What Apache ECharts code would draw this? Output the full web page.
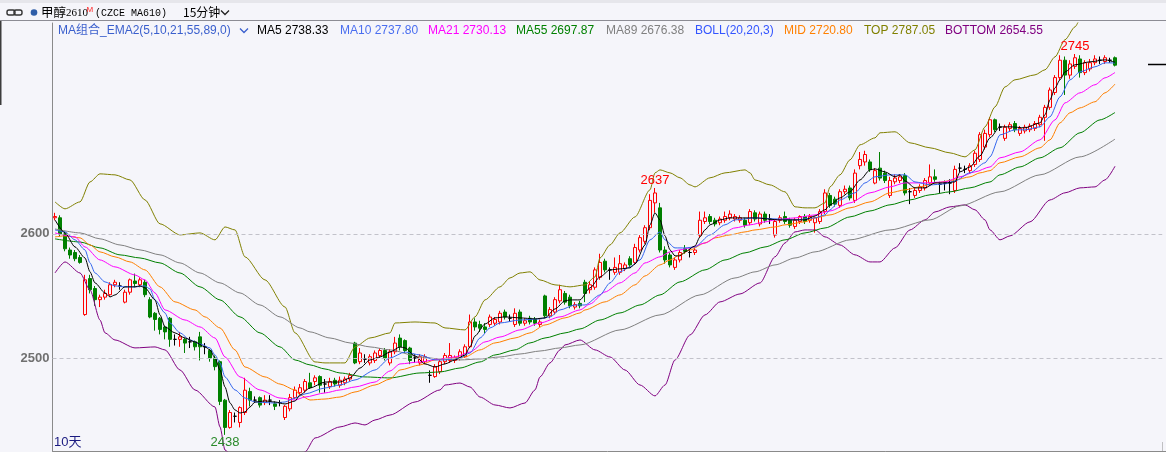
<!DOCTYPE html>
<html>
<head>
<meta charset="utf-8">
<title>甲醇2610 15分钟</title>
<script src="https://cdn.jsdelivr.net/npm/echarts@6.0.0/dist/echarts.min.js"></script>
<style>
  html, body { margin: 0; padding: 0; background: #f5f5fa; overflow: hidden; }
  #chart { width: 1166px; height: 452px; }
</style>
</head>
<body>
<div id="chart"></div>
<script>
// K线: [开, 收, 低, 高]，15分钟
var kline = [
  [2613,2614,2611,2617],[2613,2600,2598,2615],[2600,2588,2586,2602],[2587,2583,2580,2589],[2585,2580,2578,2587],
  [2581,2577,2576,2583],[2535,2563,2534,2567],[2564,2555,2552,2567],[2556,2547,2542,2558],[2547,2549,2541,2551],
  [2549,2552,2547,2555],[2551,2559,2550,2561],[2559,2561,2557,2563],[2558,2558,2555,2561],[2545,2553,2544,2555],
  [2553,2563,2551,2564],[2562,2560,2557,2568],[2559,2563,2557,2565],[2561,2551,2549,2563],[2547,2533,2532,2549],
  [2536,2531,2522,2537],[2532,2523,2519,2533],[2525,2521,2515,2526],[2532,2515,2509,2533],[2515,2515,2510,2519],
  [2515,2517,2509,2521],[2515,2512,2504,2516],[2513,2513,2508,2517],[2513,2509,2506,2514],[2517,2509,2498,2521],
  [2509,2509,2503,2512],[2506,2500,2497,2507],[2500,2493,2490,2502],[2497,2465,2462,2498],[2466,2444,2438,2467],
  [2444,2456,2443,2458],[2453,2453,2448,2456],[2448,2460,2444,2461],[2456,2474,2454,2484],[2473,2466,2461,2476],
  [2466,2466,2464,2469],[2468,2462,2460,2469],[2464,2466,2462,2470],[2466,2466,2462,2470],[2463,2461,2458,2465],
  [2464,2464,2461,2466],[2452,2461,2450,2462],[2459,2468,2457,2471],[2468,2474,2467,2477],[2472,2476,2470,2479],
  [2474,2481,2472,2483],[2480,2476,2475,2488],[2481,2484,2478,2486],[2485,2478,2472,2486],[2479,2479,2472,2483],
  [2477,2481,2475,2484],[2482,2479,2477,2484],[2478,2482,2476,2485],[2480,2483,2478,2485],[2483,2486,2481,2488],
  [2512,2496,2495,2513],[2497,2504,2495,2508],[2499,2499,2496,2503],[2496,2501,2494,2503],[2498,2504,2496,2506],
  [2502,2506,2500,2508],[2506,2500,2498,2508],[2496,2505,2494,2507],[2505,2512,2503,2517],[2516,2509,2506,2519],
  [2514,2506,2504,2515],[2508,2498,2495,2509],[2500,2500,2496,2503],[2496,2501,2494,2503],[2497,2501,2495,2503],
  [2486,2486,2480,2490],[2485,2493,2484,2495],[2489,2497,2487,2499],[2497,2502,2495,2504],[2498,2502,2496,2512],
  [2498,2500,2496,2502],[2500,2505,2498,2507],[2501,2509,2500,2511],[2509,2529,2508,2535],[2529,2525,2522,2532],
  [2527,2524,2521,2530],[2525,2523,2520,2528],[2527,2533,2525,2535],[2528,2531,2526,2533],[2529,2536,2527,2538],
  [2537,2533,2531,2539],[2532,2532,2529,2535],[2527,2536,2525,2540],[2537,2528,2526,2539],[2528,2530,2526,2532],
  [2532,2529,2527,2534],[2531,2528,2526,2533],[2527,2529,2525,2531],[2550,2534,2532,2551],[2534,2539,2532,2541],
  [2537,2547,2535,2549],[2546,2555,2544,2559],[2552,2545,2543,2554],[2549,2542,2540,2551],[2541,2543,2539,2545],
  [2544,2542,2540,2546],[2561,2552,2545,2563],[2555,2559,2552,2562],[2557,2571,2555,2573],[2565,2577,2563,2584],
  [2578,2571,2569,2580],[2571,2571,2563,2573],[2569,2573,2567,2581],[2569,2576,2567,2583],[2572,2575,2570,2577],
  [2580,2575,2573,2582],[2577,2589,2575,2592],[2587,2597,2585,2599],[2594,2605,2592,2607],[2605,2627,2603,2632],
  [2625,2633,2617,2637],[2621,2587,2585,2625],[2587,2579,2576,2590],[2583,2575,2573,2585],[2573,2579,2571,2581],
  [2579,2585,2577,2587],[2588,2586,2584,2591],[2585,2585,2581,2588],[2585,2587,2583,2589],[2599,2611,2597,2618],
  [2610,2613,2608,2618],[2614,2610,2608,2616],[2611,2608,2606,2613],[2609,2612,2607,2614],[2611,2614,2609,2618],
  [2613,2616,2611,2619],[2612,2614,2610,2616],[2611,2613,2609,2615],[2611,2607,2605,2613],[2609,2618,2607,2620],
  [2617,2612,2610,2619],[2608,2616,2606,2618],[2616,2611,2609,2618],[2612,2612,2608,2616],[2599,2610,2597,2612],
  [2611,2613,2609,2615],[2614,2610,2608,2618],[2611,2607,2605,2613],[2606,2611,2604,2613],[2610,2614,2608,2615],
  [2614,2610,2608,2616],[2611,2614,2609,2616],[2609,2613,2601,2614],[2610,2618,2608,2620],[2618,2633,2616,2636],
  [2631,2623,2621,2633],[2628,2624,2622,2630],[2623,2634,2621,2636],[2634,2636,2632,2639],[2637,2629,2627,2639],
  [2627,2649,2625,2652],[2655,2660,2652,2666],[2658,2664,2655,2667],[2658,2652,2650,2660],[2641,2651,2640,2653],
  [2653,2645,2643,2666],[2649,2643,2641,2651],[2631,2643,2629,2646],[2642,2645,2640,2648],[2643,2646,2641,2648],
  [2647,2633,2631,2649],[2634,2634,2624,2637],[2631,2635,2629,2637],[2635,2638,2633,2640],[2637,2643,2635,2645],
  [2641,2646,2639,2656],[2646,2644,2642,2652],[2640,2640,2633,2642],[2641,2641,2635,2643],[2641,2641,2632,2644],
  [2635,2652,2633,2655],[2653,2653,2650,2657],[2652,2652,2649,2655],[2651,2655,2649,2657],[2656,2665,2654,2667],
  [2660,2680,2658,2682],[2670,2681,2668,2684],[2680,2692,2678,2694],[2692,2684,2682,2693],[2686,2686,2683,2689],
  [2677,2686,2675,2688],[2685,2688,2683,2690],[2689,2684,2682,2691],[2681,2685,2679,2687],[2683,2686,2681,2688],
  [2684,2687,2682,2689],[2685,2689,2683,2691],[2688,2694,2686,2696],[2694,2702,2675,2704],[2702,2716,2700,2718],
  [2714,2726,2712,2728],[2726,2740,2724,2744],[2740,2728,2712,2743],[2728,2737,2725,2740],[2735,2742,2733,2745],
  [2741,2730,2726,2744],[2730,2738,2728,2740],[2733,2738,2731,2741],[2738,2741,2736,2744],[2740,2740,2737,2743],
  [2739,2742,2737,2744],[2740,2740,2738,2742],[2742,2736,2735,2743]
];

// 指标线，[K线序号, 数值]
var ma5Pts = [[0,2611.3],[2,2600.8],[4,2589.5],[6,2580.6],[7,2569.4],[8,2560.5],[10,2552.4],[11,2549.2],[12,2550.8],
  [14,2557.3],[16,2557.3],[17,2558.1],[18,2556.5],[20,2546.8],[21,2534.7],[22,2525],[24,2520.2],[26,2516.1],
  [28,2512.9],[30,2508.9],[31,2506.5],[32,2500],[33,2490.3],[34,2476.6],[35,2463.7],[36,2458.1],[37,2455.6],
  [38,2456.5],[39,2460.5],[40,2464.5],[42,2465.3],[44,2464.5],[46,2462.9],[48,2465.3],[49,2470.2],[51,2475.8],
  [54,2480.6],[57,2480.6],[59,2483.9],[61,2491.9],[63,2498.4],[65,2500.8],[67,2504.8],[69,2508.9],[70,2508.1],
  [72,2501.6],[74,2495.2],[76,2492.7],[78,2495.2],[80,2498.4],[82,2502.4],[83,2508.9],[84,2517.7],[86,2527.4],
  [88,2532.3],[90,2533.1],[93,2532.3],[96,2531.5],[98,2532.3],[100,2539.5],[102,2546],[103,2546.8],[105,2546.8],
  [107,2556.5],[109,2565.3],[111,2571],[113,2571.8],[115,2572.6],[116,2575.8],[118,2591.1],[119,2607.3],
  [120,2616.9],[121,2611.3],[122,2598.4],[123,2587.1],[124,2582.3],[125,2582.3],[126,2585.5],[128,2590.3],
  [129,2597.6],[130,2603.2],[131,2607.3],[133,2611.3],[135,2612.9],[140,2612.9],[145,2611.3],[150,2611.3],
  [152,2614.5],[154,2619.4],[155,2623.4],[157,2629],[159,2633.9],[161,2643.5],[163,2651.6],[164,2652.4],
  [166,2650],[168,2646],[169,2647.6],[170,2642.7],[172,2637.1],[174,2637.1],[176,2641.1],[178,2641.1],
  [180,2641.9],[181,2650],[183,2654],[185,2662.9],[187,2677.4],[189,2686.3],[191,2686.3],[194,2685.5],
  [197,2689.5],[198,2696],[199,2708.1],[200,2717.7],[201,2724.2],[202,2730.6],[204,2736.3],[207,2738.7],
  [210,2740.3],[212,2738.33]];

var ma10Pts = [[0,2603.2],[2,2601.6],[4,2595.2],[6,2587.1],[7,2576.6],[8,2568.5],[10,2561.3],[12,2558.1],
  [14,2557.3],[16,2557.3],[18,2558.1],[19,2555.6],[20,2546.8],[22,2536.3],[23,2528.2],[25,2520.2],[27,2514.5],
  [29,2511.3],[31,2508.1],[32,2502.4],[33,2496],[34,2484.7],[36,2474.2],[38,2467.7],[40,2464.5],[44,2463.7],
  [46,2464.5],[48,2467.7],[50,2471],[54,2475.8],[57,2478.2],[60,2482.3],[64,2490.3],[67,2500],[70,2504.8],
  [73,2502.4],[76,2498.4],[78,2498.4],[81,2500],[83,2504],[85,2516.1],[87,2524.2],[89,2528.2],[93,2530.6],
  [97,2531.5],[99,2533.1],[101,2538.7],[104,2542.7],[106,2542.7],[109,2550.8],[111,2560.5],[113,2569.4],
  [115,2573.4],[117,2579],[119,2595.2],[121,2601.6],[122,2595.2],[124,2588.7],[126,2588.7],[128,2589.5],
  [131,2599.2],[134,2607.3],[136,2611.3],[140,2612.9],[144,2612.1],[148,2611.3],[152,2612.9],[154,2615.3],
  [155,2619.4],[157,2627.4],[160,2633.1],[162,2641.1],[164,2646],[167,2647.6],[170,2647.6],[172,2641.9],
  [175,2639.5],[178,2640.3],[180,2642.7],[183,2649.2],[186,2657.3],[187,2662.1],[189,2679.8],[192,2683.9],
  [194,2683.9],[197,2686.3],[199,2694.4],[201,2710.5],[203,2724.2],[205,2730.6],[208,2734.7],[210,2737.9],
  [212,2737.80]];

var ma21Pts = [[0,2600.8],[4,2597.6],[6,2589.5],[9,2579],[12,2573.4],[16,2566.9],[18,2562.9],[20,2552.4],
  [22,2538.7],[26,2530.6],[29,2525],[32,2516.1],[34,2500.8],[37,2484.7],[41,2474.2],[45,2467.7],[48,2466.1],
  [50,2468.5],[54,2471.8],[57,2474.2],[60,2476.6],[64,2480.6],[67,2489.5],[69,2495.2],[73,2496.8],[77,2499.2],
  [80,2500.8],[83,2504.8],[86,2512.9],[89,2516.9],[93,2522.6],[97,2528.2],[101,2533.1],[105,2538.7],
  [107,2543.5],[110,2553.2],[113,2560.5],[116,2568.5],[118,2576.6],[121,2581.5],[123,2585.5],[125,2587.1],
  [127,2588.7],[130,2592.7],[133,2599.2],[136,2604.8],[139,2607.3],[142,2609.7],[144,2611.3],[148,2612.9],
  [152,2615.3],[155,2618.5],[159,2625],[163,2633.1],[167,2637.9],[170,2641.1],[174,2641.1],[178,2641.9],
  [181,2646],[184,2650],[187,2654],[189,2661.3],[193,2666.1],[197,2675.8],[200,2691.9],[202,2705.6],
  [205,2713.7],[208,2720.2],[210,2725.8],[212,2730.13]];

var ma55Pts = [[0,2596],[5,2593.5],[9,2588.7],[13,2583.1],[17,2580.6],[21,2576.6],[25,2568.5],[29,2557.3],
  [33,2546.8],[37,2533.1],[41,2520.2],[45,2508.9],[48,2498.4],[51,2494.4],[54,2491.1],[57,2487.9],[62,2484.7],
  [67,2483.9],[73,2487.9],[77,2488.7],[81,2491.9],[85,2496.8],[88,2502.4],[92,2506.5],[95,2512.1],[98,2516.1],
  [102,2520.2],[105,2523.4],[109,2530.6],[113,2536.3],[117,2542.7],[121,2550.8],[125,2561.3],[130,2571],
  [134,2579],[138,2584.7],[142,2589.5],[146,2595.2],[150,2600.8],[154,2604.8],[159,2613.7],[163,2618.5],
  [167,2623.4],[171,2627.4],[175,2631.5],[179,2633.9],[183,2637.1],[187,2641.9],[189,2647.6],[193,2654],
  [197,2661.3],[201,2669.4],[205,2681.5],[209,2691.9],[212,2697.87]];

var ma89Pts = [[0,2604],[5,2600.8],[9,2596],[13,2591.1],[17,2587.1],[21,2583.1],[25,2576.6],[29,2568.5],
  [33,2560.5],[37,2552.4],[41,2542.7],[45,2533.1],[49,2524.2],[51,2521],[55,2516.1],[59,2512.1],[63,2508.9],
  [67,2506.5],[73,2500.8],[77,2499.2],[81,2498.4],[85,2499.2],[89,2500.8],[93,2503.2],[97,2505.6],[101,2508.1],
  [105,2510.5],[113,2522.6],[121,2534.7],[129,2550.8],[136,2564.5],[140,2569.4],[144,2575],[148,2580.6],
  [152,2585.5],[159,2595.2],[167,2603.2],[175,2611.3],[181,2622.6],[189,2633.9],[197,2647.6],[205,2662.1],
  [212,2676.38]];

var midPts = [[0,2597.6],[2,2598.4],[5,2596.8],[7,2591.1],[9,2585.5],[12,2581.5],[15,2577.4],[18,2571],
  [21,2557.3],[24,2545.2],[28,2538.7],[30,2533.1],[33,2524.2],[36,2506.5],[38,2492.7],[42,2484.7],[45,2479],
  [48,2474.2],[49,2470.2],[51,2466.1],[54,2466.9],[57,2468.5],[60,2472.6],[64,2478.2],[67,2483],[69,2490.3],
  [73,2494.4],[76,2498.4],[79,2500],[82,2500.8],[85,2506.5],[88,2512.1],[92,2516.1],[95,2520.2],[98,2526.6],
  [102,2532.3],[105,2536.3],[106,2538.7],[110,2545.2],[113,2550.8],[116,2558.9],[118,2566.1],[121,2575],
  [123,2579],[125,2583.1],[127,2587.1],[130,2592.7],[132,2596.8],[135,2599.2],[138,2601.6],[140,2603.2],
  [144,2605.6],[146,2607.3],[150,2609.7],[152,2612.9],[155,2615.3],[159,2621],[163,2625.8],[167,2633.1],
  [170,2635.5],[173,2637.9],[176,2641.1],[180,2643.5],[183,2646],[185,2649.2],[187,2651],[189,2657.3],
  [193,2662.1],[197,2669.4],[199,2675.8],[201,2689.5],[203,2697.6],[205,2701.6],[208,2706.5],[210,2713.7],
  [212,2720.80]];

var topPts = [[0,2625.8],[2,2620.2],[5,2625.8],[7,2641.9],[9,2648.4],[12,2647.6],[15,2643.5],[18,2627.4],
  [21,2608.1],[25,2599.2],[29,2600.8],[32,2595.2],[34,2605.6],[36,2603.2],[38,2581.5],[42,2562.9],[46,2541.1],
  [48,2520.2],[52,2496.8],[54,2496],[58,2496],[60,2508.9],[63,2516.1],[67,2520.2],[68,2528.2],[72,2529],
  [76,2528.2],[78,2524.2],[82,2522.6],[84,2533.1],[86,2546.8],[89,2557.3],[91,2564.5],[93,2568.5],[95,2569.4],
  [97,2562.9],[100,2558.9],[103,2557.3],[106,2558.9],[108,2565.3],[109,2580.6],[111,2591.1],[113,2600.8],
  [116,2613.7],[119,2635.5],[120,2649.2],[121,2651.6],[123,2649.2],[125,2645.2],[127,2639.5],[128,2637.9],
  [131,2645.2],[134,2649.2],[138,2651.6],[139,2649.2],[140,2643.5],[143,2639.5],[146,2633.9],[148,2621.8],
  [150,2621],[152,2621],[154,2625],[155,2637.9],[157,2647.6],[159,2659.7],[161,2671.8],[164,2677.4],
  [165,2681.5],[168,2682.3],[171,2673.4],[175,2669.4],[179,2665.3],[182,2662.1],[184,2667.7],[186,2686.3],
  [188,2702.4],[190,2718.5],[192,2724.2],[196,2728.2],[198,2732.3],[200,2742.7],[202,2756.5],[204,2766.9],
  [205,2772.6],[208,2779.5],[210,2783.4],[212,2787.05]];

var bottomPts = [[0,2568.5],[2,2577.4],[5,2568.5],[7,2554.8],[9,2530.6],[10,2520.2],[12,2514.5],[16,2508.1],
  [20,2508.9],[22,2506.5],[25,2490.3],[28,2474.2],[32,2460.5],[33,2444.4],[34,2425.8],[37,2410],[42,2402],
  [46,2408],[50,2424.2],[52,2435.5],[57,2444.4],[60,2447.6],[62,2446],[64,2450],[67,2454],[72,2464.5],
  [77,2474.2],[78,2478.2],[81,2479.8],[83,2476.6],[85,2468.5],[88,2462.1],[91,2459.7],[94,2463.7],[96,2474.2],
  [97,2484.7],[99,2496],[101,2506.5],[102,2510.5],[105,2514.5],[108,2506.5],[111,2500.8],[114,2490.3],
  [117,2478.2],[120,2469.4],[122,2478.2],[124,2498.4],[127,2518.5],[130,2534.7],[133,2545.2],[137,2551.6],
  [141,2560.5],[144,2581.5],[146,2592.7],[148,2601.6],[150,2603.2],[152,2603.2],[154,2597.6],[157,2591.1],
  [160,2583.1],[163,2577.4],[165,2577.4],[168,2588.7],[171,2603.2],[174,2611.3],[176,2617.7],[179,2621.8],
  [182,2623.4],[184,2619.4],[186,2611.3],[187,2603.2],[189,2595.2],[191,2598.4],[195,2609.7],[199,2627.4],
  [202,2633.1],[205,2637.1],[208,2637.9],[210,2643.5],[212,2654.55]];

var yGridValues = [2500, 2600];
var peakMarks = [[34, 'low'], [120, 'high'], [204, 'high']];
var categoryCount = 222;   // 213根K线 + 右侧留白
var dayTickIndex = 190;

var categories = [];
for (var i = 0; i < categoryCount; i++) { categories.push(String(i)); }

var BG = '#f5f5fa';
var UP = '#ff0000';
var DOWN = '#008000';

function lastVal(pts) { return pts[pts.length - 1][1].toFixed(2); }

var myChart = echarts.init(document.getElementById('chart'));

function lineSeries(name, pts, color) {
  return {
    name: name,
    type: 'line',
    data: pts,
    showSymbol: false,
    symbol: 'none',
    smooth: 0.25,
    smoothMonotone: 'x',
    silent: true,
    z: 3,
    lineStyle: { color: color, width: 1 }
  };
}

var markData = peakMarks.map(function (m) {
  var k = kline[m[0]];
  var v = m[1] === 'low' ? k[2] : k[3];
  return {
    coord: [m[0], v],
    value: v,
    label: {
      position: m[1] === 'low' ? 'bottom' : 'top',
      color: m[1] === 'low' ? '#2a8a2a' : '#ff0000'
    }
  };
});

var legendFont = '12px "Liberation Sans", "Noto Sans CJK SC", sans-serif';
var legendItems = [
  { x: 58,  text: 'MA组合_EMA2(5,10,21,55,89,0)', color: '#3a5fcd' },
  { x: 257, text: 'MA5 ' + lastVal(ma5Pts), color: '#000000' },
  { x: 340, text: 'MA10 ' + lastVal(ma10Pts), color: '#4a6ef0' },
  { x: 428, text: 'MA21 ' + lastVal(ma21Pts), color: '#ff00ff' },
  { x: 516, text: 'MA55 ' + lastVal(ma55Pts), color: '#008000' },
  { x: 606, text: 'MA89 ' + lastVal(ma89Pts), color: '#808080' },
  { x: 695, text: 'BOLL(20,20,3)', color: '#3355ff' },
  { x: 784, text: 'MID ' + lastVal(midPts), color: '#ff8000' },
  { x: 864, text: 'TOP ' + lastVal(topPts), color: '#808000' },
  { x: 945, text: 'BOTTOM ' + lastVal(bottomPts), color: '#800080' }
];

var graphics = [
  { type: 'rect', shape: { x: 0, y: 0, width: 1166, height: 3 }, style: { fill: '#e6e6eb' }, silent: true },
  // 右侧留白处遮一下网格边
  { type: 'rect', shape: { x: 1162.5, y: 21, width: 4, height: 431 }, style: { fill: BG }, z: 50, silent: true },
  { type: 'line', shape: { x1: 0, y1: 20.5, x2: 1166, y2: 20.5 }, style: { stroke: '#8c8c94', lineWidth: 1 }, z: 60, silent: true },
  { type: 'line', shape: { x1: 1162, y1: 451.5, x2: 1166, y2: 451.5 }, style: { stroke: '#8a8a8a', lineWidth: 1 }, z: 60, silent: true },
  { type: 'rect', shape: { x: 0, y: 21, width: 1.5, height: 84 }, style: { fill: '#3c3c3c' }, silent: true },
  // 链接图标
  { type: 'rect', shape: { x: 7, y: 10, width: 8, height: 5, r: 2 }, style: { fill: 'none', stroke: '#333', lineWidth: 1.4 }, silent: true },
  { type: 'rect', shape: { x: 14, y: 10, width: 8, height: 5, r: 2 }, style: { fill: 'none', stroke: '#333', lineWidth: 1.4 }, silent: true },
  { type: 'circle', shape: { cx: 34, cy: 12.5, r: 3.3 }, style: { fill: '#2f5ea8' }, silent: true },
  { type: 'text', x: 41, y: 12.5, style: { text: '甲醇', font: '12.5px "Noto Sans CJK SC", sans-serif', fill: '#000', verticalAlign: 'middle' }, silent: true },
  { type: 'text', x: 66, y: 13, style: { text: '2610', font: '11px "Liberation Serif", serif', fill: '#000', verticalAlign: 'middle' }, silent: true },
  { type: 'text', x: 86.5, y: 9.5, style: { text: 'M', font: '8px "Liberation Sans", sans-serif', fill: '#ff2020', verticalAlign: 'middle' }, silent: true },
  { type: 'text', x: 95, y: 13, style: { text: '(CZCE MA610)', font: '10px "Liberation Mono", monospace', fill: '#000', verticalAlign: 'middle' }, silent: true },
  { type: 'text', x: 183, y: 12.5, style: { text: '15分钟', font: '12px "Noto Sans CJK SC", sans-serif', fill: '#000', verticalAlign: 'middle' }, silent: true },
  { type: 'polyline', shape: { points: [[221, 10.5], [225, 14.5], [229, 10.5]] }, style: { stroke: '#222', lineWidth: 1.3, fill: 'none' }, silent: true },
  { type: 'polyline', shape: { points: [[240, 28.5], [244, 32.5], [248, 28.5]] }, style: { stroke: '#3a5fcd', lineWidth: 1.3, fill: 'none' }, silent: true },
  { type: 'text', x: 54, y: 442, style: { text: '10天', font: '13px "Liberation Sans", "Noto Sans CJK SC", sans-serif', fill: '#1a1a80', verticalAlign: 'middle' }, silent: true }
];
legendItems.forEach(function (it) {
  graphics.push({
    type: 'text', x: it.x, y: 31,
    style: { text: it.text, font: legendFont, fill: it.color, verticalAlign: 'middle' },
    silent: true
  });
});

var option = {
  backgroundColor: BG,
  animation: false,
  grid: { left: 52.5, right: 1166 - 52.5 - categoryCount * 5, top: 23, bottom: 1, containLabel: false },
  xAxis: {
    type: 'category',
    data: categories,
    boundaryGap: true,
    axisLine: { show: true, lineStyle: { color: '#8a8a8a', width: 1 } },
    axisTick: {
      show: true, inside: true, length: 9, alignWithLabel: false,
      interval: function (idx) { return idx === dayTickIndex; },
      lineStyle: { color: '#8a8a8a' }
    },
    axisLabel: { show: false },
    splitLine: { show: false }
  },
  yAxis: {
    type: 'value',
    position: 'left',
    min: 2425,
    max: 2770,
    interval: 25,
    axisLine: { show: true, lineStyle: { color: '#8a8a8a', width: 1 } },
    axisTick: { show: false },
    axisLabel: {
      margin: 3,
      color: '#707070',
      fontSize: 13,
      fontWeight: 'bold',
      fontFamily: 'Liberation Sans',
      formatter: function (v) { return yGridValues.indexOf(v) >= 0 ? String(v) : ''; }
    },
    splitLine: { show: false }
  },
  series: [
    {
      name: 'K线',
      type: 'candlestick',
      data: kline,
      barWidth: 3,
      z: 2,
      silent: true,
      itemStyle: {
        color: BG,
        color0: DOWN,
        borderColor: UP,
        borderColor0: DOWN,
        borderColorDoji: '#000000',
        borderWidth: 1
      },
      markLine: {
        silent: true,
        symbol: ['none', 'none'],
        label: { show: false },
        lineStyle: { color: '#c2c2ca', type: [4, 3], width: 1 },
        data: yGridValues.map(function (v) { return { yAxis: v }; })
      },
      markPoint: {
        silent: true,
        symbol: 'circle',
        symbolSize: 1,
        itemStyle: { color: 'rgba(0,0,0,0)' },
        label: {
          show: true,
          distance: 1,
          fontSize: 13,
          fontFamily: 'Liberation Sans',
          formatter: function (p) { return String(p.value); }
        },
        data: markData
      }
    },
    lineSeries('TOP', topPts, '#808000'),
    lineSeries('BOTTOM', bottomPts, '#800080'),
    lineSeries('MA89', ma89Pts, '#808080'),
    lineSeries('MA55', ma55Pts, '#008000'),
    lineSeries('MID', midPts, '#ff8000'),
    lineSeries('MA21', ma21Pts, '#ff00ff'),
    lineSeries('MA10', ma10Pts, '#3366ee'),
    lineSeries('MA5', ma5Pts, '#000000')
  ],
  graphic: graphics
};

myChart.setOption(option);

// 右侧最新价标记
var lastClose = kline[kline.length - 1][1];
var lastY = Math.round(myChart.convertToPixel({ yAxisIndex: 0 }, lastClose)) - 0.5;
graphics.push({
  type: 'line', shape: { x1: 1148, y1: lastY, x2: 1166, y2: lastY },
  style: { stroke: '#000', lineWidth: 1.5 }, z: 60, silent: true
});
myChart.setOption({ graphic: graphics });
</script>
</body>
</html>
